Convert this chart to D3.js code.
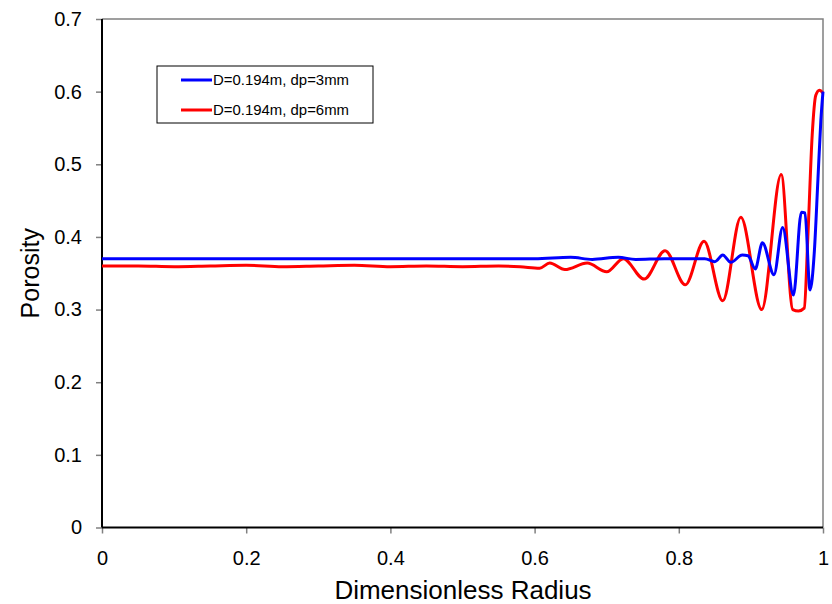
<!DOCTYPE html>
<html>
<head>
<meta charset="utf-8">
<script src="https://cdn.jsdelivr.net/npm/d3@7"></script>
<style>
  html, body { margin: 0; padding: 0; background: #fff; }
  svg { display: block; font-family: Arial, "Liberation Sans", sans-serif; }
</style>
</head>
<body>
<svg id="chart" width="832" height="604"></svg>
<script>
// Porosity profiles across the bed radius
const seriesNames = ["D=0.194m, dp=3mm", "D=0.194m, dp=6mm"];
const seriesColors = ["#0000ff", "#ff0000"];

const radiusSmall = [0.00, 0.05, 0.10, 0.15, 0.20, 0.25, 0.30, 0.35, 0.40, 0.45, 0.50, 0.55, 0.60,
  0.65, 0.68, 0.716, 0.74, 0.78, 0.80, 0.836, 0.850, 0.861, 0.872, 0.888, 0.896, 0.906, 0.916,
  0.932, 0.944, 0.959, 0.970, 0.975, 0.982, 0.988, 0.993, 0.997, 1.000];
const porositySmall = [0.370, 0.370, 0.370, 0.370, 0.370, 0.370, 0.370, 0.370, 0.370, 0.370, 0.370, 0.370, 0.370,
  0.372, 0.369, 0.372, 0.369, 0.370, 0.370, 0.370, 0.366, 0.375, 0.365, 0.375, 0.374, 0.356, 0.392,
  0.348, 0.413, 0.320, 0.434, 0.433, 0.327, 0.380, 0.480, 0.560, 0.600];

const radiusLarge = [0.00, 0.05, 0.10, 0.15, 0.20, 0.25, 0.30, 0.35, 0.40, 0.45, 0.50, 0.55, 0.58,
  0.607, 0.621, 0.642, 0.673, 0.700, 0.723, 0.752, 0.781, 0.809, 0.835, 0.861, 0.886, 0.915,
  0.942, 0.958, 0.966, 0.974, 0.979, 0.985, 0.990, 0.995, 1.000];
const porosityLarge = [0.360, 0.360, 0.359, 0.360, 0.361, 0.359, 0.360, 0.361, 0.359, 0.360, 0.359, 0.360, 0.359,
  0.357, 0.364, 0.355, 0.364, 0.352, 0.370, 0.342, 0.381, 0.334, 0.394, 0.312, 0.427, 0.300,
  0.486, 0.300, 0.298, 0.302, 0.400, 0.540, 0.595, 0.602, 0.598];

const xTicks = [0, 0.2, 0.4, 0.6, 0.8, 1];
const yTicks = [0, 0.1, 0.2, 0.3, 0.4, 0.5, 0.6, 0.7];

const svg = d3.select("#chart");
const plotLeft = 102, plotRight = 823, plotTop = 19, plotBottom = 527.5;

const x = d3.scaleLinear().domain([0, 1]).range([plotLeft, plotRight]);
const y = d3.scaleLinear().domain([0, 0.7]).range([plotBottom, plotTop]);

// plot frame (grey top/right)
svg.append("path")
  .attr("d", `M${plotLeft},${plotTop}H${plotRight}V${plotBottom}`)
  .attr("fill", "none").attr("stroke", "#808080").attr("stroke-width", 1.5);

// axes
const xAxis = svg.append("g").attr("transform", `translate(0,${plotBottom})`)
  .call(d3.axisBottom(x).tickValues(xTicks).tickSize(6).tickPadding(17).tickFormat(d3.format("")));
const yAxis = svg.append("g").attr("transform", `translate(${plotLeft},0)`)
  .call(d3.axisLeft(y).tickValues(yTicks).tickSize(6).tickPadding(14).tickFormat(d3.format("")));

[xAxis, yAxis].forEach(g => {
  g.select(".domain").remove();
  g.selectAll(".tick line").attr("stroke", "#808080").attr("stroke-width", 1.5);
  g.selectAll(".tick text").attr("font-size", 20).attr("fill", "#000")
    .attr("font-family", "Arial, 'Liberation Sans', sans-serif");
});

// black axis lines
svg.append("line").attr("x1", plotLeft).attr("x2", plotLeft).attr("y1", plotTop).attr("y2", plotBottom)
  .attr("stroke", "#000").attr("stroke-width", 2);
svg.append("line").attr("x1", plotLeft).attr("x2", plotRight).attr("y1", plotBottom).attr("y2", plotBottom)
  .attr("stroke", "#000").attr("stroke-width", 2);

// data lines
const line = d3.line().x(d => x(d[0])).y(d => y(d[1])).curve(d3.curveMonotoneX);
const series = [
  d3.zip(radiusSmall, porositySmall),
  d3.zip(radiusLarge, porosityLarge)
];
// draw dp=6mm first so dp=3mm lies on top
[1, 0].forEach(i => {
  svg.append("path").datum(series[i])
    .attr("d", line)
    .attr("fill", "none")
    .attr("stroke", seriesColors[i])
    .attr("stroke-width", 3)
    .attr("stroke-linejoin", "round");
});

// axis titles
svg.append("text").attr("x", 463).attr("y", 599)
  .attr("text-anchor", "middle").attr("font-size", 26).text("Dimensionless Radius");
svg.append("text").attr("transform", `translate(39,${(plotTop + plotBottom) / 2}) rotate(-90)`)
  .attr("text-anchor", "middle").attr("font-size", 25).text("Porosity");

// legend
const lg = svg.append("g");
lg.append("rect").attr("x", 157).attr("y", 66).attr("width", 216).attr("height", 57)
  .attr("fill", "#fff").attr("stroke", "#000").attr("stroke-width", 1);
seriesNames.forEach((name, i) => {
  const ly = 80 + i * 30;
  lg.append("line").attr("x1", 181).attr("x2", 212).attr("y1", ly).attr("y2", ly)
    .attr("stroke", seriesColors[i]).attr("stroke-width", 3);
  lg.append("text").attr("x", 213).attr("y", ly + 5).attr("font-size", 14)
    .attr("textLength", 136).attr("lengthAdjust", "spacingAndGlyphs").text(name);
});
</script>
</body>
</html>
